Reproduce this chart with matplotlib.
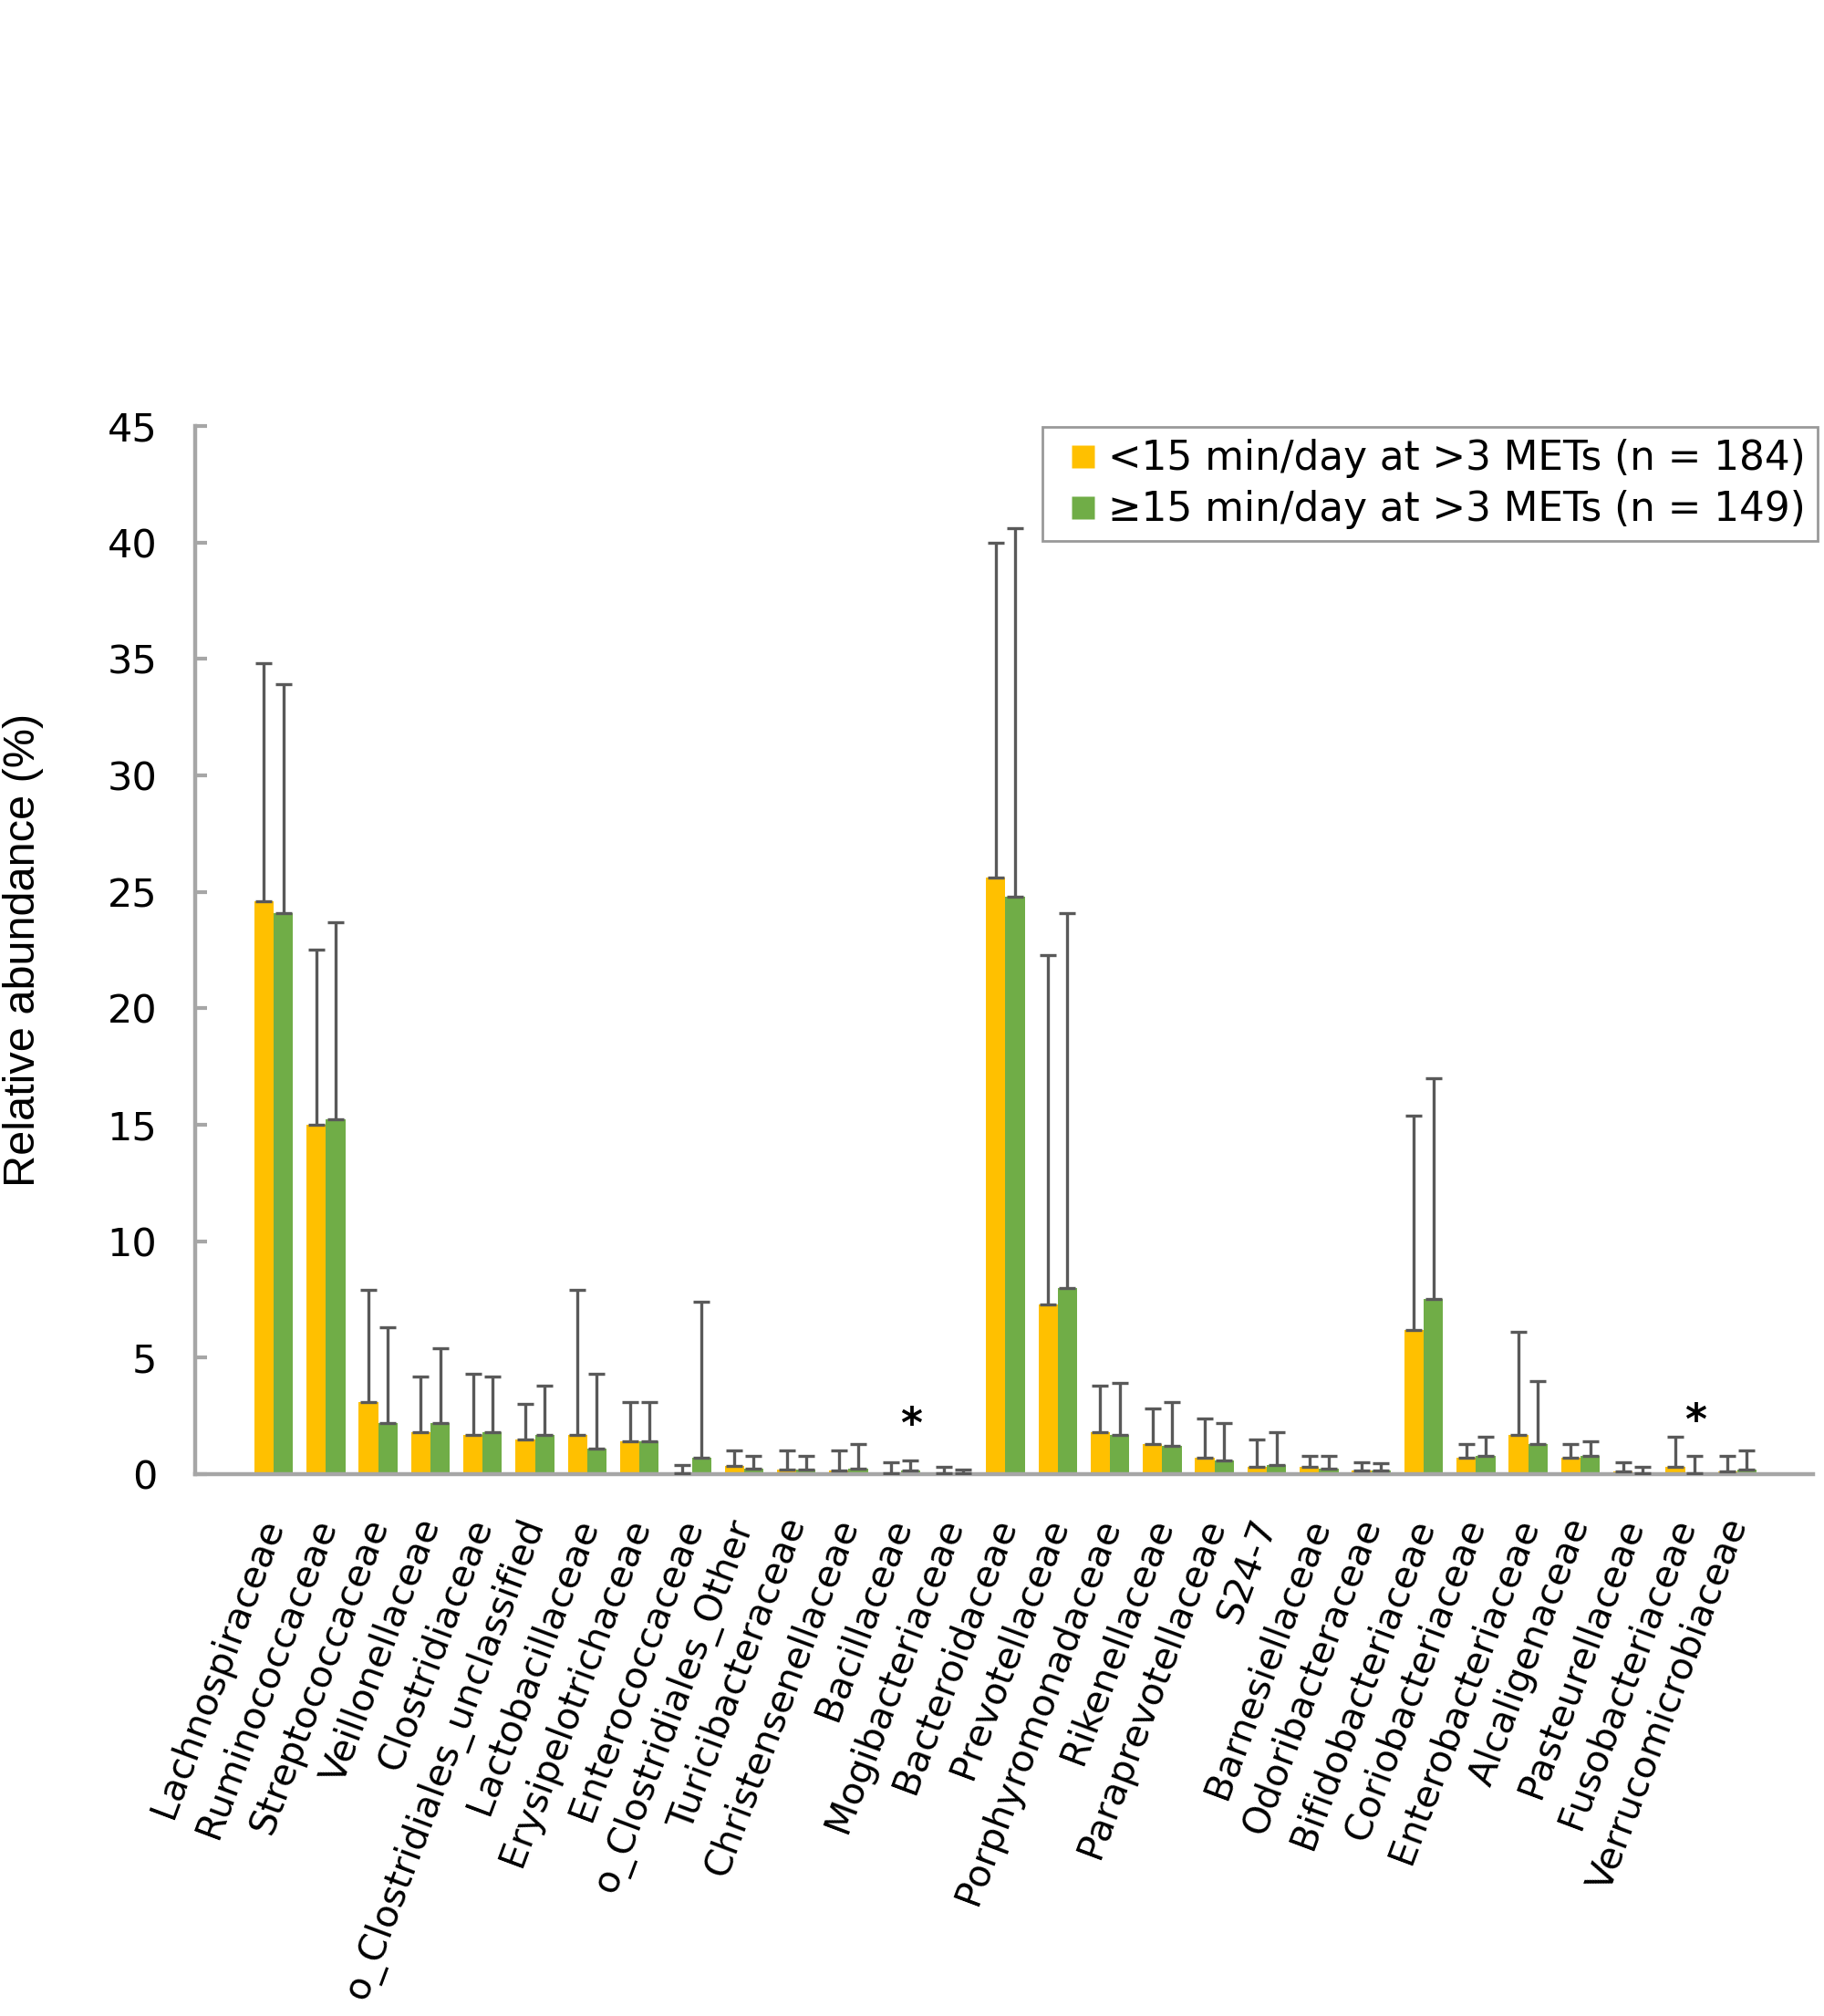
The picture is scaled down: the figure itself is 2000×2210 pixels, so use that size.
import matplotlib
matplotlib.use("Agg")
import matplotlib.pyplot as plt
from matplotlib.lines import Line2D
from matplotlib.transforms import ScaledTranslation
import numpy as np

categories = ["Lachnospiraceae", "Ruminococcaceae", "Streptococcaceae", "Veillonellaceae",
              "Clostridiaceae", "o_Clostridiales_unclassified", "Lactobacillaceae",
              "Erysipelotrichaceae", "Enterococcaceae", "o_Clostridiales_Other",
              "Turicibacteraceae", "Christensenellaceae", "Bacillaceae", "Mogibacteriaceae",
              "Bacteroidaceae", "Prevotellaceae", "Porphyromonadaceae", "Rikenellaceae",
              "Paraprevotellaceae", "S24-7", "Barnesiellaceae", "Odoribacteraceae",
              "Bifidobacteriaceae", "Coriobacteriaceae", "Enterobacteriaceae",
              "Alcaligenaceae", "Pasteurellaceae", "Fusobacteriaceae", "Verrucomicrobiaceae"]

low_mean = [24.6, 15.0, 3.1, 1.8, 1.7, 1.5, 1.7, 1.4, 0.05, 0.35, 0.2, 0.15, 0.05, 0.02,
            25.6, 7.3, 1.8, 1.3, 0.7, 0.3, 0.3, 0.15, 6.2, 0.7, 1.7, 0.7, 0.1, 0.3, 0.1]
low_top = [34.8, 22.5, 7.9, 4.2, 4.3, 3.0, 7.9, 3.1, 0.4, 1.0, 1.0, 1.0, 0.5, 0.3,
           40.0, 22.3, 3.8, 2.8, 2.4, 1.5, 0.8, 0.5, 15.4, 1.3, 6.1, 1.3, 0.5, 1.6, 0.8]
high_mean = [24.1, 15.25, 2.2, 2.2, 1.8, 1.7, 1.1, 1.4, 0.7, 0.25, 0.2, 0.25, 0.15, 0.02,
             24.8, 8.0, 1.7, 1.2, 0.6, 0.4, 0.25, 0.15, 7.5, 0.8, 1.3, 0.8, 0.02, 0.05, 0.2]
high_top = [33.9, 23.7, 6.3, 5.4, 4.2, 3.8, 4.3, 3.1, 7.4, 0.8, 0.8, 1.3, 0.6, 0.2,
            40.6, 24.1, 3.9, 3.1, 2.2, 1.8, 0.8, 0.45, 17.0, 1.6, 4.0, 1.4, 0.3, 0.8, 1.0]

series_labels = ["<15 min/day at >3 METs (n = 184)", "\u226515 min/day at >3 METs (n = 149)"]
significant = ["Bacillaceae", "Fusobacteriaceae"]
sig_y = [2.05, 2.2]

YELLOW = "#FFC000"
GREEN = "#70AD47"
ERR = "#595959"
AXC = "#A6A6A6"

fig = plt.figure(figsize=(20, 22.1), dpi=100)
ax = fig.add_axes([0.107, 0.2688, 0.887, 0.5199])

x = np.arange(len(categories))
w = 0.37
lm = np.array(low_mean); lt = np.array(low_top)
hm = np.array(high_mean); ht = np.array(high_top)

ax.bar(x - w / 2, lm, width=w, color=YELLOW, zorder=2)
ax.bar(x + w / 2, hm, width=w, color=GREEN, zorder=2)
ekw = dict(fmt="none", ecolor=ERR, elinewidth=2.4, capsize=6.5, capthick=2.4, zorder=3)
ax.errorbar(x - w / 2, lm, yerr=[np.zeros_like(lm), lt - lm], **ekw)
ax.errorbar(x + w / 2, hm, yerr=[np.zeros_like(hm), ht - hm], **ekw)

for name, yy in zip(significant, sig_y):
    i = categories.index(name)
    ax.text(i + 0.2, yy, "*", ha="center", va="center", fontsize=33, fontweight="bold",
            family="DejaVu Sans", color="black")

ax.set_xlim(-1.5, len(categories) + 0.45)
ax.set_ylim(0, 45)
ax.set_yticks(np.arange(0, 46, 5))
ax.set_yticklabels([str(v) for v in range(0, 46, 5)], fontsize=31, family="DejaVu Sans")
ax.set_xticks(x)
ax.set_xticklabels(categories, rotation=69.5, ha="right", va="center", rotation_mode="anchor",
                   fontsize=29.5, family="DejaVu Sans")
shift = ScaledTranslation(6 / 100, 0, fig.dpi_scale_trans)
for lab in ax.get_xticklabels():
    lab.set_transform(lab.get_transform() + shift)
ax.tick_params(axis="x", length=0, pad=36)
ax.tick_params(axis="y", direction="in", length=9, width=3, color=AXC, pad=30)

for s in ["top", "right"]:
    ax.spines[s].set_visible(False)
for s in ["left", "bottom"]:
    ax.spines[s].set_color(AXC)
    ax.spines[s].set_linewidth(3.2)

ax.set_ylabel("Relative abundance (%)", fontsize=35, family="Liberation Sans", labelpad=50)

handles = [Line2D([], [], linestyle="none", marker="s", markersize=18,
                  markerfacecolor=c, markeredgecolor="none") for c in (YELLOW, GREEN)]
leg = ax.legend(handles, series_labels, loc="upper right", bbox_to_anchor=(1.003, 0.999),
                borderaxespad=0, fancybox=False, frameon=True, handlelength=1.39,
                handletextpad=-0.04, labelspacing=0.3,
                prop={"family": "DejaVu Sans", "size": 31.5}, borderpad=0.3)
leg.get_frame().set_edgecolor("#808080")
leg.get_frame().set_linewidth(2.0)

fig.savefig("out.png", dpi=100, facecolor="white")
